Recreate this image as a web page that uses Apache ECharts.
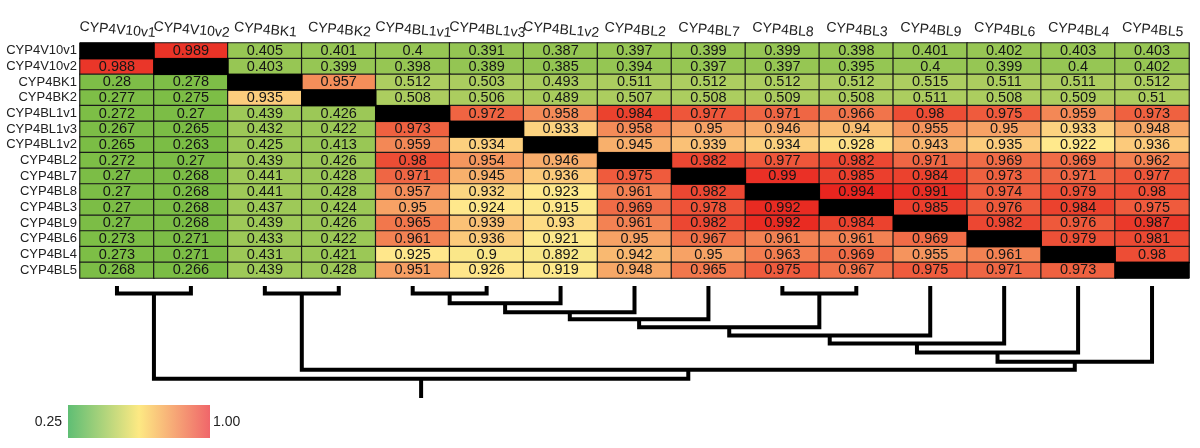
<!DOCTYPE html>
<html><head><meta charset="utf-8">
<script src="https://cdn.jsdelivr.net/npm/echarts@6/dist/echarts.min.js"></script>
<style>html,body{margin:0;padding:0;background:#fff}#c{width:1200px;height:448px}</style>
</head><body><div id="c"></div>
<script>
// Gene names (rows top-to-bottom, columns left-to-right)
const genes = ['CYP4V10v1','CYP4V10v2','CYP4BK1','CYP4BK2','CYP4BL1v1','CYP4BL1v3','CYP4BL1v2','CYP4BL2','CYP4BL7','CYP4BL8','CYP4BL3','CYP4BL9','CYP4BL6','CYP4BL4','CYP4BL5'];

// Pairwise similarity matrix (null = diagonal)
const similarity = [
  [null,0.989,0.405,0.401,0.4,0.391,0.387,0.397,0.399,0.399,0.398,0.401,0.402,0.403,0.403],
  [0.988,null,0.403,0.399,0.398,0.389,0.385,0.394,0.397,0.397,0.395,0.4,0.399,0.4,0.402],
  [0.28,0.278,null,0.957,0.512,0.503,0.493,0.511,0.512,0.512,0.512,0.515,0.511,0.511,0.512],
  [0.277,0.275,0.935,null,0.508,0.506,0.489,0.507,0.508,0.509,0.508,0.511,0.508,0.509,0.51],
  [0.272,0.27,0.439,0.426,null,0.972,0.958,0.984,0.977,0.971,0.966,0.98,0.975,0.959,0.973],
  [0.267,0.265,0.432,0.422,0.973,null,0.933,0.958,0.95,0.946,0.94,0.955,0.95,0.933,0.948],
  [0.265,0.263,0.425,0.413,0.959,0.934,null,0.945,0.939,0.934,0.928,0.943,0.935,0.922,0.936],
  [0.272,0.27,0.439,0.426,0.98,0.954,0.946,null,0.982,0.977,0.982,0.971,0.969,0.969,0.962],
  [0.27,0.268,0.441,0.428,0.971,0.945,0.936,0.975,null,0.99,0.985,0.984,0.973,0.971,0.977],
  [0.27,0.268,0.441,0.428,0.957,0.932,0.923,0.961,0.982,null,0.994,0.991,0.974,0.979,0.98],
  [0.27,0.268,0.437,0.424,0.95,0.924,0.915,0.969,0.978,0.992,null,0.985,0.976,0.984,0.975],
  [0.27,0.268,0.439,0.426,0.965,0.939,0.93,0.961,0.982,0.992,0.984,null,0.982,0.976,0.987],
  [0.273,0.271,0.433,0.422,0.961,0.936,0.921,0.95,0.967,0.961,0.961,0.969,null,0.979,0.981],
  [0.273,0.271,0.431,0.421,0.925,0.9,0.892,0.942,0.95,0.963,0.969,0.955,0.961,null,0.98],
  [0.268,0.266,0.439,0.428,0.951,0.926,0.919,0.948,0.965,0.975,0.967,0.975,0.971,0.973,null]
];

// Dendrogram merges: node index = 15 + merge order; leaves 0..14
const mergeLeft   = [0, 2, 4, 17, 18, 19, 9, 20, 22, 23, 24, 25, 16, 15];
const mergeRight  = [1, 3, 5, 6,  7,  8,  10, 21, 11, 12, 13, 14, 26, 27];
const mergeHeight = [7.5, 7.5, 7.5, 17, 26, 33, 7.5, 41, 49, 57, 66, 75, 83, 92];
const rootStemEnd = 111;

// Colour scale (three-colour, mid at median)
const scaleStops = [0.263, 0.925, 0.994];
const scaleColors = [[123,189,69],[255,233,140],[232,37,31]];
const legendTicks = ['0.25','1.00'];

function colorAt(v){
  let i = v <= scaleStops[1] ? 0 : 1;
  let t = (v - scaleStops[i])/(scaleStops[i+1]-scaleStops[i]);
  t = Math.max(0, Math.min(1, t));
  const a = scaleColors[i], b = scaleColors[i+1];
  return 'rgb(' + a.map((c,k)=>Math.round(c+(b[k]-c)*t)).join(',') + ')';
}
const nStops = 300;
const vmColors = [];
for (let k=0;k<nStops;k++){
  vmColors.push(colorAt(scaleStops[0] + (scaleStops[2]-scaleStops[0])*k/(nStops-1)));
}

const cells = [], diag = [];
similarity.forEach((row, r) => row.forEach((v, c) => {
  if (v === null) diag.push([c, r, 1]); else cells.push([c, r, v]);
}));

// dendrogram segments
const nodeX = [], nodeH = [];
genes.forEach((g,i)=>{ nodeX[i] = i + 0.5; nodeH[i] = 0; });
const segs = [];
mergeLeft.forEach((l, k) => {
  const r = mergeRight[k], h = mergeHeight[k], id = genes.length + k;
  segs.push([nodeX[l], nodeH[l], nodeX[l], h, nodeX[r], h, nodeX[r], nodeH[r]]);
  nodeX[id] = (nodeX[l] + nodeX[r]) / 2; nodeH[id] = h;
});
const rootId = genes.length + mergeLeft.length - 1;
segs.push([nodeX[rootId], nodeH[rootId], nodeX[rootId], rootStemEnd, nodeX[rootId], rootStemEnd, nodeX[rootId], rootStemEnd]);

const FONT = 'Liberation Sans, Arial, sans-serif';
const chart = echarts.init(document.getElementById('c'));
chart.setOption({
  animation: false,
  backgroundColor: '#fff',
  grid: [
    {left: 80, top: 43, width: 1109, height: 235},
    {left: 80, top: 286, width: 1109, height: 112}
  ],
  xAxis: [
    {type:'category', gridIndex:0, data: genes, position:'top',
     axisLine:{show:false}, axisTick:{show:false}, splitLine:{show:false},
     axisLabel:{interval:0, rotate:5, align:'center', verticalAlign:'bottom', margin:6,
       fontSize:14, color:'#222', fontFamily: FONT}},
    {type:'value', gridIndex:1, min:0, max:genes.length, show:false}
  ],
  yAxis: [
    {type:'category', gridIndex:0, data: genes, inverse:true,
     axisLine:{show:false}, axisTick:{show:false}, splitLine:{show:false},
     axisLabel:{interval:0, margin:3, fontSize:13, color:'#222', fontFamily: FONT}},
    {type:'value', gridIndex:1, min:0, max:rootStemEnd, inverse:true, show:false}
  ],
  visualMap: {
    show:false, type:'continuous', seriesIndex:0, dimension:2,
    min: scaleStops[0], max: scaleStops[2], inRange:{color: vmColors}
  },
  series: [
    {type:'heatmap', xAxisIndex:0, yAxisIndex:0, data: cells,
     itemStyle:{borderColor:'#1a1a1a', borderWidth:1.2},
     label:{show:true, formatter: p => String(p.value[2]), fontSize:14.5, color:'#151515', fontFamily: FONT},
     emphasis:{disabled:true}},
    {type:'heatmap', xAxisIndex:0, yAxisIndex:0, data: diag,
     itemStyle:{color:'#000', borderColor:'#000', borderWidth:1},
     emphasis:{disabled:true}},
    {type:'custom', xAxisIndex:1, yAxisIndex:1, data: segs,
     encode:{x:[0,2,4,6], y:[1,3,5,7]},
     renderItem: (params, api) => {
       const pts = [];
       for (let k=0;k<4;k++) pts.push(api.coord([api.value(2*k), api.value(2*k+1)]));
       return {type:'polyline', shape:{points: pts},
         style:{stroke:'#000', lineWidth:4, fill:null, lineJoin:'miter', lineCap:'butt'}};
     }}
  ],
  graphic: [
    {type:'rect', left:68, top:405, shape:{width:142, height:33},
     style:{fill: new echarts.graphic.LinearGradient(0,0,1,0,[
       {offset:0,color:'#5FBE74'},{offset:0.5,color:'#FDE983'},{offset:1,color:'#F0666A'}])}},
    {type:'text', x:62, y:422, style:{text:legendTicks[0], align:'right', verticalAlign:'middle', fill:'#222', font: '14px ' + FONT}},
    {type:'text', x:213, y:422, style:{text:legendTicks[1], align:'left', verticalAlign:'middle', fill:'#222', font: '14px ' + FONT}}
  ]
});
</script></body></html>
